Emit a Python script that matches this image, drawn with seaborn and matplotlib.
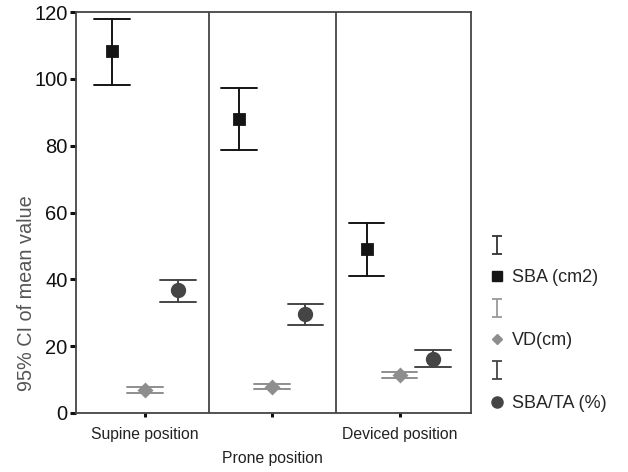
import matplotlib
matplotlib.use("Agg")
import matplotlib.pyplot as plt
from matplotlib.lines import Line2D
from matplotlib.path import Path
import seaborn as sns
import pandas as pd

positions = ["Supine position", "Prone position", "Deviced position"]
tick_labels = ["Supine position", "\nProne position", "Deviced position"]
measures = ["SBA (cm2)", "VD(cm)", "SBA/TA (%)"]

sba_mean = [108.3, 88.1, 49.1]
sba_lo = [98.3, 78.7, 41.0]
sba_hi = [117.9, 97.2, 56.8]

vd_mean = [6.9, 7.9, 11.4]
vd_lo = [6.1, 7.1, 10.5]
vd_hi = [7.7, 8.6, 12.3]

ratio_mean = [36.7, 29.5, 16.1]
ratio_lo = [33.2, 26.4, 13.7]
ratio_hi = [39.9, 32.6, 18.9]

series = {
    "SBA (cm2)": (sba_lo, sba_mean, sba_hi),
    "VD(cm)": (vd_lo, vd_mean, vd_hi),
    "SBA/TA (%)": (ratio_lo, ratio_mean, ratio_hi),
}
rows = []
for m in measures:
    lo, mid, hi = series[m]
    for i, p in enumerate(positions):
        for v in (lo[i], mid[i], hi[i]):
            rows.append({"position": p, "measure": m, "value": v})
df = pd.DataFrame(rows)

sns.set_theme(style="white")
plt.rcParams["font.family"] = ["Liberation Sans", "DejaVu Sans"]

colors = ["#151515", "#8e8e8e", "#454545"]
err_colors = ["#333333", "#9a9a9a", "#454545"]

fig = plt.figure(figsize=(6.28, 4.72), dpi=100)
ax = fig.add_axes([76 / 628, 1 - 413 / 472, (471 - 76) / 628, (413 - 12) / 472])

sns.pointplot(data=df, x="position", y="value", hue="measure",
              order=positions, hue_order=measures, palette=colors,
              estimator="median", errorbar=("pi", 100),
              markers=["s", "D", "o"], linestyles=["none", "none", "none"],
              dodge=0.52, capsize=0.28, err_kws={"linewidth": 1.4},
              markersize=7.2, legend=False, ax=ax)

for line in ax.lines:
    mk = line.get_marker()
    if mk == "o":
        line.set_markersize(9)
    elif mk == "D":
        line.set_markersize(5.8)

ax.set_xlim(-0.54, 2.56)
ax.set_ylim(0, 120)
ax.set_yticks([0, 20, 40, 60, 80, 100, 120])
ax.set_xticks([0, 1, 2])
ax.set_xticklabels(tick_labels, fontsize=11.3, color="#222222", linespacing=1.75)
ax.tick_params(axis="y", labelsize=14.5, length=4, width=2.2, pad=2,
               direction="out", left=True, colors="#111111")
ax.tick_params(axis="x", length=3, width=2.2, pad=7, direction="out",
               bottom=True, colors="#111111")
for lab in ax.get_xticklabels():
    lab.set_color("#222222")

for x in (0.5, 1.5):
    ax.axvline(x, color="#444444", linewidth=1.3)
for s in ax.spines.values():
    s.set_visible(True)
    s.set_color("#444444")
    s.set_linewidth(1.3)

ax.set_xlabel("")
ax.set_ylabel("95% CI of mean value", fontsize=14.3, color="#555555")
ax.yaxis.set_label_coords(-0.10, 0.30)

ibar = Path([(-0.6, -1), (0.6, -1), (0, -1), (0, 1), (-0.6, 1), (0.6, 1)],
            [Path.MOVETO, Path.LINETO, Path.MOVETO, Path.LINETO, Path.MOVETO, Path.LINETO])

handles = []
labels = []
mk = ["s", "D", "o"]
ms = [6.5, 5.5, 8]
for i, m in enumerate(measures):
    handles.append(Line2D([], [], linestyle="none", marker=ibar, markersize=13,
                          markeredgecolor=err_colors[i], markerfacecolor="none",
                          markeredgewidth=1.3))
    labels.append("")
    handles.append(Line2D([], [], linestyle="none", marker=mk[i], markersize=ms[i],
                          color=colors[i]))
    labels.append(m)

fig.legend(handles, labels, loc="upper left", bbox_to_anchor=(477 / 628, 1 - 229 / 472),
           frameon=False, fontsize=13, handlelength=1.2, handletextpad=0.25,
           labelspacing=0.8, borderpad=0)

fig.savefig("out.png", dpi=100)
